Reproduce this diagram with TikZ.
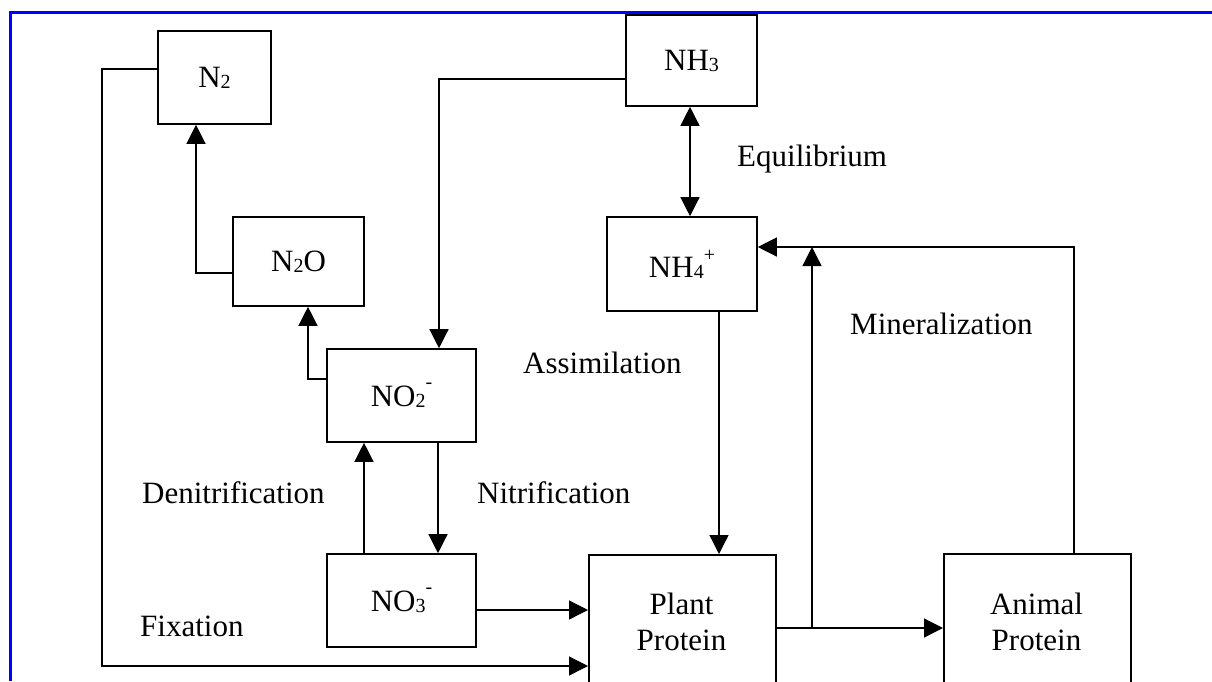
\documentclass[tikz,border=0pt]{standalone}
\usepackage{fontspec}
\setmainfont{Liberation Serif}
\usetikzlibrary{arrows.meta}
\newcommand{\subsc}[1]{\raisebox{-1pt}{\fontsize{20}{20}\selectfont #1}}
\newcommand{\supplus}[1]{\raisebox{16pt}{\fontsize{20}{20}\selectfont #1}}
\newcommand{\supminus}[1]{\raisebox{18pt}{\fontsize{20}{20}\selectfont #1}}
\tikzset{
  bigtri/.tip={Triangle[length=19pt,width=19pt]},
  box/.style={draw, line width=1.6pt, inner sep=0pt},
  conn/.style={draw, line width=1.3pt},
  lbl/.style={anchor=base west, inner sep=0pt},
}
\begin{document}
\begin{tikzpicture}[x=1pt,y=-1pt,font=\fontsize{31}{36}\selectfont]
\clip (0,0) rectangle (1212,681);
\fill[white] (0,0) rectangle (1212,681);
% page frame
\draw[blue, line width=3pt] (1212,12.8) -- (10,12.8) -- (10,681);

% boxes
\node[box, minimum width=113pt, minimum height=93pt] (n2) at (214.5,77.5) {N\subsc{2}};
\node[box, minimum width=131pt, minimum height=91pt] (nh3) at (691.5,60.5) {NH\subsc{3}};
\node[box, minimum width=131pt, minimum height=89pt] (n2o) at (298.5,261.5) {N\subsc{2}O};
\node[box, minimum width=150pt, minimum height=94pt] (nh4) at (682,264) {NH\subsc{4}\supplus{+}};
\node[box, minimum width=149pt, minimum height=93pt] (no2) at (401.5,395.5) {NO\subsc{2}\supminus{-}};
\node[box, minimum width=149pt, minimum height=93pt] (no3) at (401.5,600.5) {NO\subsc{3}\supminus{-}};
\node[box, minimum width=187pt, minimum height=170pt, anchor=north west] (pp) at (588,554) {};
\node[box, minimum width=187pt, minimum height=170pt, anchor=north west] (ap) at (943,553) {};
\node[align=center, inner sep=0pt] (ppt) at (681.5,622) {Plant\\Protein};
\node[align=center, inner sep=0pt] (apt) at (1036.5,622) {Animal\\Protein};

% labels
\node[lbl] (leq) at (737,166) {Equilibrium};
\node[lbl] (lmin) at (850,334) {Mineralization};
\node[lbl] (lass) at (523,373) {Assimilation};
\node[lbl] (lden) at (142,503) {Denitrification};
\node[lbl] (lnit) at (477,503) {Nitrification};
\node[lbl] (lfix) at (140,636) {Fixation};

% bend coordinates
\coordinate (fa) at (102,69);
\coordinate (fb) at (102,666);
\coordinate (na) at (439,79);
\coordinate (eq) at (690,0);
\coordinate (as) at (719,0);
\coordinate (da) at (308,379);
\coordinate (db) at (196,273);
\coordinate (dn) at (364,0);
\coordinate (nt) at (438,0);
\coordinate (np) at (0,610);
\coordinate (pa) at (0,628);
\coordinate (mb) at (812,628);
\coordinate (mt) at (812,247);
\coordinate (ma) at (1074,247);

% connectors
\draw[conn,-bigtri] (n2.west |- fa) -- (fa) -- (fb) -- (pp.west |- fb);
\draw[conn,-bigtri] (nh3.west |- na) -- (na) -- (na |- no2.north);
\draw[conn,bigtri-bigtri] (eq |- nh3.south) -- (eq |- nh4.north);
\draw[conn,-bigtri] (as |- nh4.south) -- (as |- pp.north);
\draw[conn,-bigtri] (no2.west |- da) -- (da) -- (da |- n2o.south);
\draw[conn,-bigtri] (n2o.west |- db) -- (db) -- (db |- n2.south);
\draw[conn,-bigtri] (dn |- no3.north) -- (dn |- no2.south);
\draw[conn,-bigtri] (nt |- no2.south) -- (nt |- no3.north);
\draw[conn,-bigtri] (no3.east |- np) -- (pp.west |- np);
\draw[conn,-bigtri] (pp.east |- pa) -- (ap.west |- pa);
\draw[conn,-bigtri] (mb) -- (mt);
\draw[conn,-bigtri] (ma |- ap.north) -- (ma) -- (nh4.east |- ma);
\end{tikzpicture}
\end{document}
